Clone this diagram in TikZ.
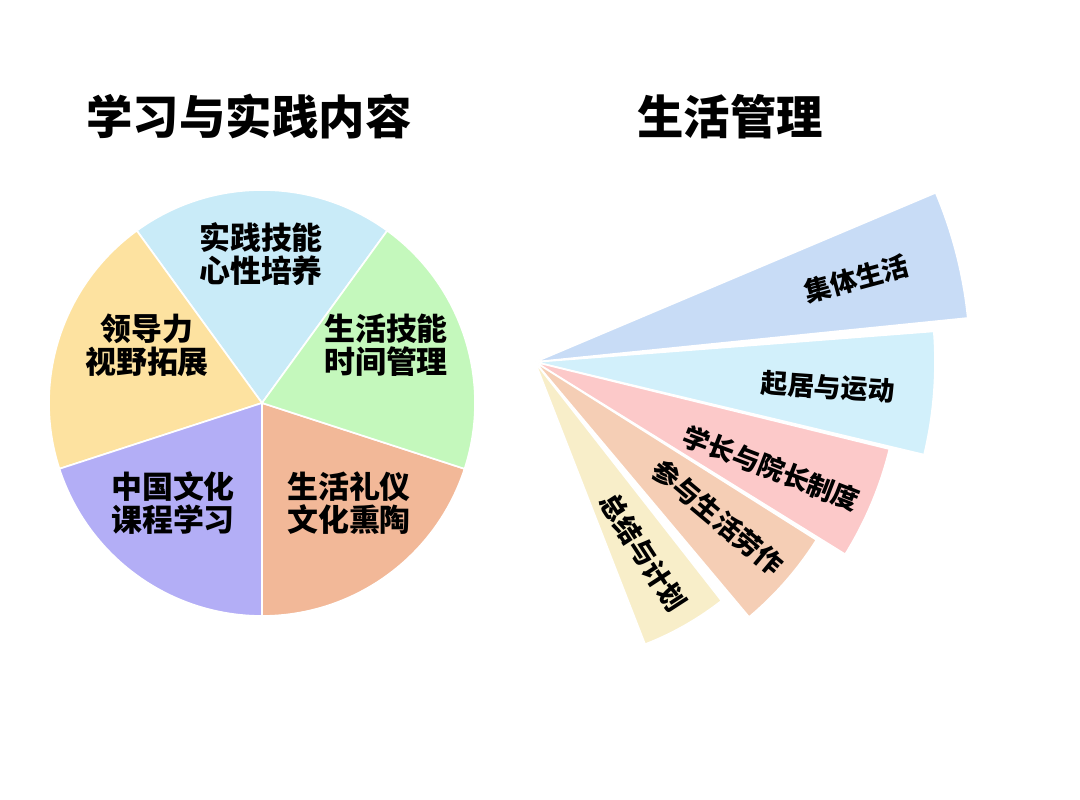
\documentclass[tikz,border=0pt]{standalone}
\usepackage{fontspec}
\newfontfamily\cjk{Noto Sans CJK SC}
\definecolor{pieblue}{HTML}{C9EBF8}
\definecolor{piegreen}{HTML}{C4F8BC}
\definecolor{piesalmon}{HTML}{F2B898}
\definecolor{pielilac}{HTML}{B3AEF6}
\definecolor{pieyellow}{HTML}{FDE2A0}
\definecolor{fanblue}{HTML}{C8DCF6}
\definecolor{fancyan}{HTML}{D2F0FB}
\definecolor{fanpink}{HTML}{FCC9C9}
\definecolor{fanpeach}{HTML}{F5CEB5}
\definecolor{fancream}{HTML}{F8EEC9}
\begin{document}
\begin{tikzpicture}
[x=0.025cm, y=0.025cm,
 every node/.style={align=center, inner sep=0pt},
 title/.style={font=\cjk\bfseries\fontsize{33}{36}\selectfont},
 pietext/.style={font=\cjk\bfseries\fontsize{22}{23.5}\selectfont},
 fantext/.style={font=\cjk\bfseries\fontsize{19}{21}\selectfont},
 slice/.style={draw=white, line width=1.2pt}]
\useasboundingbox (0,0) rectangle (1080,800);
\coordinate (c) at (262,397);
\coordinate (apex) at (535,438);
% titles
\node (t1) at (249,683) [title] {学习与实践内容};
\node (t2) at (730,683) [title] {生活管理};
% pie
\draw [slice, fill=pieblue]   (c) -- ++(54:213)  arc (54:126:213)  -- cycle;
\draw [slice, fill=pieyellow] (c) -- ++(126:213) arc (126:198:213) -- cycle;
\draw [slice, fill=pielilac]  (c) -- ++(198:213) arc (198:270:213) -- cycle;
\draw [slice, fill=piesalmon] (c) -- ++(270:213) arc (270:342:213) -- cycle;
\draw [slice, fill=piegreen]  (c) -- ++(-18:213) arc (-18:54:213)  -- cycle;
\node (p1) at (261,546) [pietext] {实践技能\\心性培养};
\node (p2) at (147,455) [pietext] {领导力\\视野拓展};
\node (p3) at (386,455) [pietext] {生活技能\\时间管理};
\node (p4) at (173,297) [pietext] {中国文化\\课程学习};
\node (p5) at (349,297) [pietext] {生活礼仪\\文化熏陶};
% fan
\draw [slice, fill=fanblue]  (apex) -- ++(5.8:435)   arc (5.8:22.9:435)   -- cycle;
\draw [slice, fill=fancyan]  (apex) -- ++(-13.4:400) arc (-13.4:4.4:400)  -- cycle;
\draw [slice, fill=fanpink]  (apex) -- ++(-31.8:365) arc (-31.8:-13.8:365) -- cycle;
\draw [slice, fill=fanpeach] (apex) -- ++(-50:333)   arc (-50:-32.3:333)  -- cycle;
\draw [slice, fill=fancream] (apex) -- ++(-68.7:303) arc (-68.7:-52:303)  -- cycle;
\node (f1) at ([shift={(14.5:332)}]apex) [fantext, rotate=15]  {集体生活};
\node (f2) at ([shift={(-4.9:294)}]apex) [fantext, rotate=-4]  {起居与运动};
\node (f3) at ([shift={(-24.2:259)}]apex) [fantext, rotate=-21] {学长与院长制度};
\node (f4) at ([shift={(-40.3:240)}]apex) [fantext, rotate=-40] {参与生活劳作};
\node (f5) at ([shift={(-60.4:219)}]apex) [fantext, rotate=-57] {总结与计划};
\end{tikzpicture}
\end{document}
